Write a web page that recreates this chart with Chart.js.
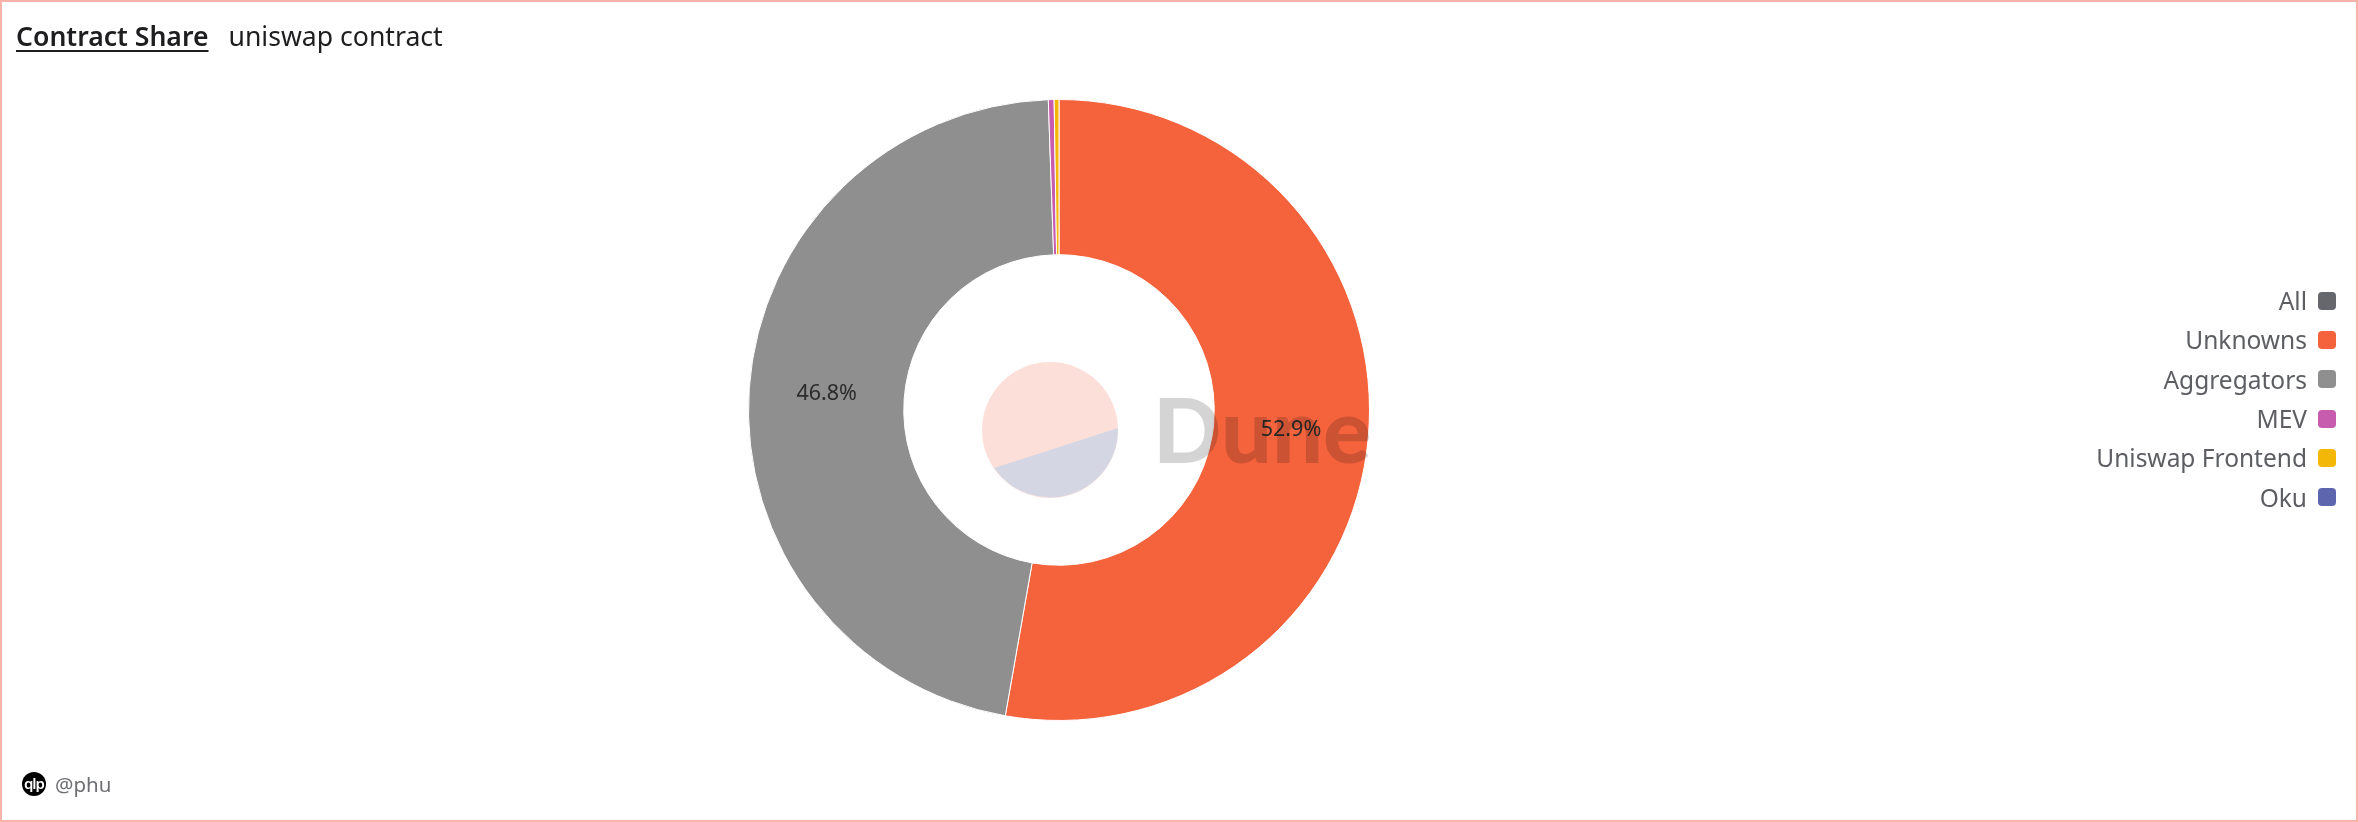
<!DOCTYPE html>
<html>
<head>
<meta charset="utf-8">
<title>Contract Share</title>
<script src="https://cdn.jsdelivr.net/npm/chart.js@4/dist/chart.umd.min.js"></script>
<style>
    html, body { margin: 0; padding: 0; background: #fff; }
    body { width: 2358px; height: 822px; position: relative; overflow: hidden; font-family: "Noto Sans", sans-serif; }
    #frame { position: absolute; inset: 0; border: 2px solid #f9b3a8; box-sizing: border-box; pointer-events: none; }
    #chartBox { position: absolute; left: 0; top: 0; width: 2118px; height: 820px; }
    #title { position: absolute; left: 16px; top: 18px; font-size: 26.6px; line-height: 36px; color: #1e1e20; white-space: nowrap; }
    #title b { font-weight: 600; text-decoration: underline; text-underline-offset: 4px; text-decoration-thickness: 2px; margin-right: 20px; }
    #legend { position: absolute; right: 22px; top: 281px; }
    .item { height: 39.3px; display: flex; align-items: center; justify-content: flex-end; font-size: 24.5px; color: #5c5e62; }
    .swatch { width: 18px; height: 18px; border-radius: 4px; margin-left: 11px; }
    #author { position: absolute; left: 22px; top: 770px; display: flex; align-items: center; color: #6e6f72; font-size: 20.5px; }
    #author i { width: 24px; height: 24px; border-radius: 50%; background: #000; color: #fff; font: 600 15px/23px "Noto Sans", sans-serif; text-align: center; margin-right: 9px; letter-spacing: -1px; }
    #mark { position: absolute; left: 0; top: 0; pointer-events: none; }
</style>
</head>
<body>
<div id="chartBox"><canvas id="chartShare"></canvas></div>
<svg id="mark" width="2358" height="822">
    <circle cx="1050" cy="430" r="68" fill="#fcdfd9"/>
    <path d="M1118 428 A68 68 0 0 1 994 468 Z" fill="#d5d6e3"/>
    <text x="1153" y="463" font-family="Lato, sans-serif" font-weight="900" font-size="90" fill="rgba(0,0,0,0.17)">Dune</text>
</svg>
<div id="title"><b>Contract Share</b>uniswap contract</div>
<div id="legend"></div>
<div id="author"><i>qlp</i>@phu</div>
<div id="frame"></div>
<script>
const categories = ['All', 'Unknowns', 'Aggregators', 'MEV', 'Uniswap Frontend', 'Oku'];
const shares = [0, 52.9, 46.8, 0.3, 0.25, 0];
const colors = ['#66676c', '#f5633d', '#8f8f8f', '#c75bae', '#f3b707', '#5c65ae'];

// percentage labels on the big slices only
const sliceLabels = {
    id: 'sliceLabels',
    afterDatasetsDraw(chart) {
        const ctx = chart.ctx;
        ctx.save();
        ctx.font = '21.5px "Noto Sans", sans-serif';
        ctx.fillStyle = '#2b2b2b';
        ctx.textAlign = 'center';
        ctx.textBaseline = 'middle';
        chart.getDatasetMeta(0).data.forEach((arc, i) => {
            if (shares[i] < 5) return;
            const pos = arc.tooltipPosition();
            ctx.fillText(shares[i].toFixed(1) + '%', pos.x, pos.y);
        });
        ctx.restore();
    }
};

new Chart(document.getElementById('chartShare'), {
    type: 'doughnut',
    data: {
        labels: categories,
        datasets: [{
            data: shares,
            backgroundColor: colors,
            borderColor: '#ffffff',
            borderWidth: 1
        }]
    },
    options: {
        responsive: true,
        maintainAspectRatio: false,
        animation: false,
        cutout: '50%',
        layout: { padding: { top: 99, bottom: 99 } },
        plugins: {
            legend: { display: false },
            tooltip: { enabled: false }
        }
    },
    plugins: [sliceLabels]
});

const legend = document.getElementById('legend');
categories.forEach((name, i) => {
    const row = document.createElement('div');
    row.className = 'item';
    row.textContent = name;
    const swatch = document.createElement('span');
    swatch.className = 'swatch';
    swatch.style.background = colors[i];
    row.appendChild(swatch);
    legend.appendChild(row);
});
</script>
</body>
</html>
